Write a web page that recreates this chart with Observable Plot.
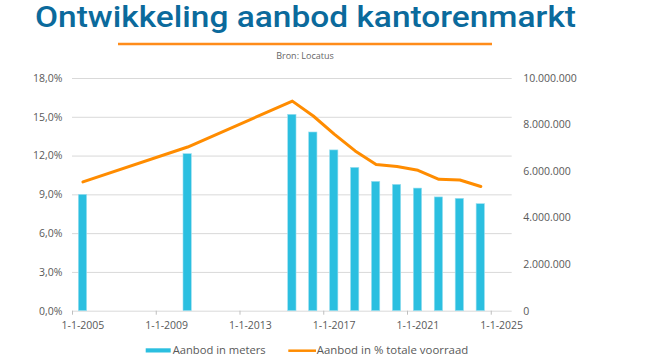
<!DOCTYPE html>
<html>
<head>
<meta charset="utf-8">
<script src="https://cdn.jsdelivr.net/npm/d3@7"></script>
<script src="https://cdn.jsdelivr.net/npm/@observablehq/plot@0.6"></script>
<style>
  html, body { margin: 0; padding: 0; background: #fff; }
  #wrap { position: relative; width: 645px; height: 363px; overflow: hidden; font-family: "Open Sans", sans-serif; }
  #header, #legend, #chart { position: absolute; left: 0; }
  #header { top: 0; }
  #chart { top: 62px; }
  #legend { top: 342px; }
</style>
</head>
<body>
<div id="wrap">
  <svg id="header" width="645" height="62">
    <text x="35" y="26.9" textLength="541" lengthAdjust="spacingAndGlyphs" font-family="Roboto" font-weight="500" font-size="29.5" fill="#0b6a9c">Ontwikkeling aanbod kantorenmarkt</text>
    <line x1="118" x2="492" y1="44" y2="44" stroke="#ff8c1a" stroke-width="2.6"/>
    <text x="305" y="58.5" text-anchor="middle" font-family="Open Sans" font-size="9" fill="#666">Bron: Locatus</text>
  </svg>
  <div id="chart"></div>
  <svg id="legend" width="645" height="21">
    <rect x="145.7" y="6.3" width="25" height="4.2" fill="#2bbfe0"/>
    <text x="172.7" y="12" font-family="Open Sans" font-size="11" fill="#595959" textLength="93" lengthAdjust="spacingAndGlyphs">Aanbod in meters</text>
    <line x1="288.3" x2="316" y1="8.7" y2="8.7" stroke="#ff8c00" stroke-width="2.5"/>
    <text x="316.7" y="12" font-family="Open Sans" font-size="11" fill="#595959" textLength="151.6" lengthAdjust="spacingAndGlyphs">Aanbod in % totale voorraad</text>
  </svg>
</div>
<script>
// ---- data ----
const years  = [2005, 2010, 2015, 2016, 2017, 2018, 2019, 2020, 2021, 2022, 2023, 2024];
const meters = [5000000, 6750000, 8440000, 7680000, 6910000, 6160000, 5560000, 5430000, 5270000, 4890000, 4830000, 4600000];
const pctStock = [10.0, 12.7, 16.25, 15.1, 13.7, 12.4, 11.35, 11.2, 10.9, 10.2, 10.15, 9.65];
const xTickYears = [2005, 2009, 2013, 2017, 2021, 2025];
const leftTicks = [0, 3, 6, 9, 12, 15, 18];
const rightTicks = [0, 2000000, 4000000, 6000000, 8000000, 10000000];

const rows = years.map((y, i) => ({year: y, meters: meters[i], pct: pctStock[i]}));

const nl = d3.formatLocale({decimal: ",", thousands: ".", grouping: [3], currency: ["€", ""]});
const fmtPct = nl.format(".1%");
const fmtNum = nl.format(",.0f");

// secondary axis: meters mapped onto the percent scale
const mToPct = d3.scaleLinear([0, 10000000], [0, 18]);

const plot = Plot.plot({
  width: 645,
  height: 280,
  marginTop: 16,
  marginBottom: 31.3,
  marginLeft: 72,
  marginRight: 133.3,
  style: {fontFamily: "Open Sans", fontSize: "10.5px", color: "#595959", background: "transparent"},
  x: {type: "linear", domain: [2005, 2026]},
  y: {domain: [0, 18]},
  marks: [
    Plot.gridY(leftTicks, {stroke: "#d9d9d9", strokeOpacity: 1, strokeWidth: 1}),
    Plot.axisY(leftTicks, {anchor: "left", tickSize: 0, tickPadding: 10, tickFormat: d => fmtPct(d / 100), label: null}),
    Plot.axisY(rightTicks.map(v => mToPct(v)), {anchor: "right", tickSize: 0, tickPadding: 11, tickFormat: p => fmtNum(Math.round(mToPct.invert(p))), label: null}),
    Plot.axisX(xTickYears, {tickSize: 4, stroke: "#bfbfbf", tickFormat: () => "", label: null}),
    Plot.text(xTickYears, {x: d => d + 0.5, y: 0, text: d => "1-1-" + d, dy: 14.5, fill: "#595959", fontSize: 10.5}),
    Plot.rectY(rows, {x1: "year", x2: d => d.year + 1, y: d => mToPct(d.meters), insetLeft: 6.3, insetRight: 6.3, fill: "#2bbfe0", stroke: "#9fe0f0", strokeWidth: 0.6}),
    Plot.line(rows, {x: d => d.year + 0.5, y: "pct", stroke: "#ff8c00", strokeWidth: 3, strokeLinejoin: "round"})
  ]
});
document.getElementById("chart").appendChild(plot);
</script>
</body>
</html>
